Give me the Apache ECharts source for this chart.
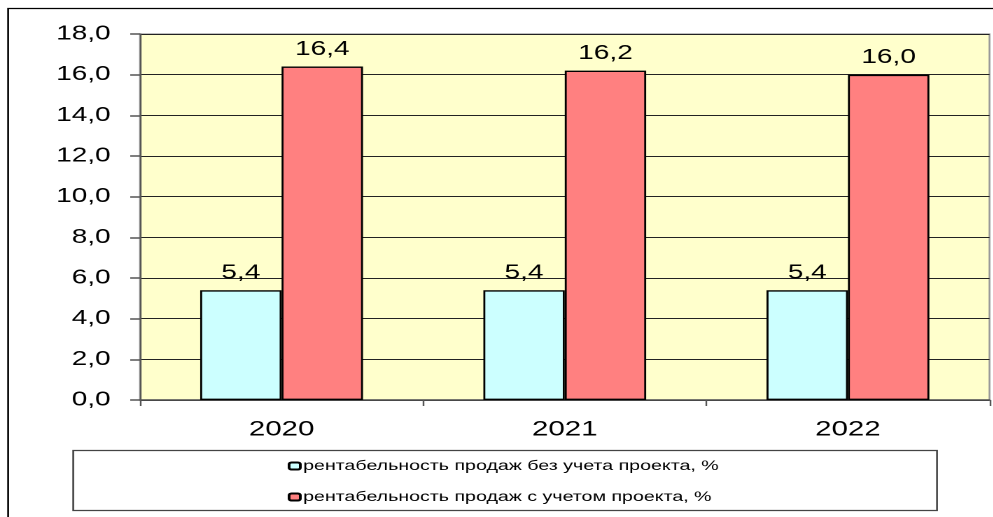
<!DOCTYPE html>
<html>
<head>
<meta charset="utf-8">
<script src="https://cdn.jsdelivr.net/npm/echarts@6/dist/echarts.min.js"></script>
<style>
  html, body { margin: 0; padding: 0; background: #fff; overflow: hidden; }
  /* The chart is laid out in a narrower box and widened, giving the broad lettering */
  #chart { width: 709.3px; height: 517px; transform: scaleX(1.4); transform-origin: 0 0; }
</style>
</head>
<body>
<div id="chart"></div>
<script>
// Years on the category axis
const years = ['2020', '2021', '2022'];
// Return on sales, %
const withoutProject = [5.4, 5.4, 5.4];
const withProject = [16.4, 16.2, 16.0];
// Series names shown in the legend
const nameWithout = 'рентабельность продаж без учета проекта, %';
const nameWith = 'рентабельность продаж с учетом проекта, %';

const fmt = v => Number(v).toFixed(1).replace('.', ',');
const font = 'Liberation Sans, Arial, sans-serif';

const chart = echarts.init(document.getElementById('chart'), null, { renderer: 'canvas', devicePixelRatio: 2 });

chart.setOption({
  backgroundColor: '#ffffff',
  animation: false,
  textStyle: { fontFamily: font },
  graphic: [
    // outer frame
    { type: 'rect', shape: { x: 5.8, y: 8.5, width: 800, height: 520 },
      style: { fill: 'none', stroke: '#000', lineWidth: 1.3 }, z: 0 },
    // legend box
    { type: 'rect', shape: { x: 52.3, y: 450.5, width: 617, height: 60 },
      style: { fill: '#fff', stroke: '#444', lineWidth: 1.3 }, z: 0 }
  ],
  grid: {
    left: 100, top: 34, right: 2.2, bottom: 117,
    show: true, backgroundColor: '#FFFFCC', borderColor: '#999', borderWidth: 1.3
  },
  legend: {
    orient: 'vertical',
    left: 200.5, top: 454,
    itemWidth: 8, itemHeight: 7, itemGap: 17,
    textStyle: { fontSize: 14, color: '#000', fontFamily: font, padding: [0, 0, 0, -3] },
    data: [nameWithout, nameWith]
  },
  xAxis: {
    type: 'category',
    data: years,
    axisLine: { lineStyle: { color: '#555', width: 1.5 } },
    axisTick: { show: true, length: 6, lineStyle: { color: '#555', width: 1.2 } },
    axisLabel: { fontSize: 21, color: '#000', margin: 19, fontFamily: font }
  },
  yAxis: {
    type: 'value',
    min: 0, max: 18, interval: 2,
    axisLine: { show: true, lineStyle: { color: '#555', width: 1.2 } },
    axisTick: { show: true, length: 7, lineStyle: { color: '#555', width: 1.5 } },
    splitLine: { show: true, lineStyle: { color: '#222', width: 1 } },
    axisLabel: { fontSize: 20, color: '#000', margin: 21, formatter: fmt, fontFamily: font }
  },
  series: [
    {
      name: nameWithout,
      type: 'bar',
      data: withoutProject,
      barGap: '0%',
      barCategoryGap: '42.5%',
      itemStyle: { color: '#CCFFFF', borderColor: '#000', borderWidth: 1.4 },
      label: { show: true, position: 'top', distance: 7, fontSize: 20, color: '#000', formatter: p => fmt(p.value), fontFamily: font }
    },
    {
      name: nameWith,
      type: 'bar',
      data: withProject,
      itemStyle: { color: '#FF8080', borderColor: '#000', borderWidth: 1.4 },
      label: { show: true, position: 'top', distance: 7, fontSize: 20, color: '#000', formatter: p => fmt(p.value), fontFamily: font }
    }
  ]
});
</script>
</body>
</html>
